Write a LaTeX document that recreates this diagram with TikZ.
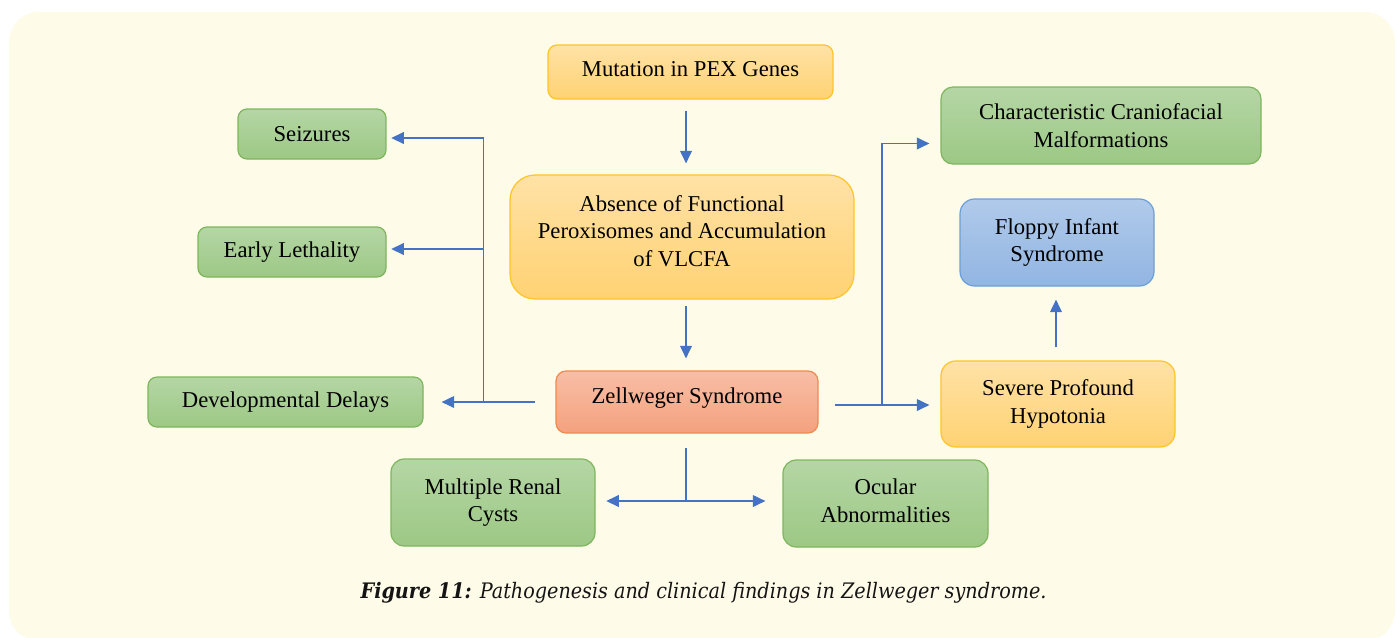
\documentclass[tikz,border=0pt]{standalone}
\usepackage{fontspec}
\setmainfont{Liberation Serif}
\newfontfamily\capfont{DejaVu Serif Condensed}
\usetikzlibrary{arrows.meta}

\definecolor{bgfill}{HTML}{FFFBE9}
\definecolor{arrowblue}{HTML}{4472C4}
\definecolor{greentop}{HTML}{B5D6A5}
\definecolor{greenbot}{HTML}{9CC884}
\definecolor{greenline}{HTML}{7DB65C}
\definecolor{orangetop}{HTML}{FFE2A6}
\definecolor{orangebot}{HTML}{FFD273}
\definecolor{orangeline}{HTML}{FFC425}
\definecolor{salmontop}{HTML}{F8BEA6}
\definecolor{salmonbot}{HTML}{F4A17E}
\definecolor{salmonline}{HTML}{EF8A4F}
\definecolor{bluetop}{HTML}{B0CAEA}
\definecolor{bluebot}{HTML}{92B5E2}
\definecolor{blueline}{HTML}{6A9FD8}

\tikzset{
  basebox/.style={line width=0.9pt, align=center, inner sep=0pt,
    font=\fontsize{17}{20.6}\selectfont, text=black},
  greenbox/.style={basebox, draw=greenline, top color=greentop, bottom color=greenbot},
  orangebox/.style={basebox, draw=orangeline, top color=orangetop, bottom color=orangebot},
  salmonbox/.style={basebox, draw=salmonline, top color=salmontop, bottom color=salmonbot},
  bluebox/.style={basebox, draw=blueline, top color=bluetop, bottom color=bluebot},
  link/.style={draw=arrowblue, line width=1pt},
  arr/.style={link, -{Triangle[length=9.4pt,width=8.8pt]}},
}

\begin{document}
\begin{tikzpicture}[x=0.75pt,y=-0.75pt]
\useasboundingbox (0,0) rectangle (1399,637);
\fill[white] (0,0) rectangle (1399,637);
\begin{scope}
  \clip (0,0) rectangle (1399,637);
  \fill[bgfill, rounded corners=22.5pt] (9,12) rectangle (1395,641);
\end{scope}

% central chain
\node[orangebox, rounded corners=6.75pt, minimum width=213.75pt, minimum height=40.5pt, text depth=4pt]
  (pex) at (690.5,72) {Mutation in PEX Genes};
\node[orangebox, rounded corners=18.75pt, minimum width=258pt, minimum height=93pt, text depth=9pt]
  (abs) at (682,237) {Absence of Functional\\Peroxisomes and Accumulation\\of VLCFA};
\node[salmonbox, rounded corners=7.5pt, minimum width=196.5pt, minimum height=46.5pt, text depth=9.7pt]
  (zs) at (687,402) {Zellweger Syndrome};

% left findings
\node[greenbox, rounded corners=6.75pt, minimum width=111pt, minimum height=37.5pt]
  (seiz) at (312,134) {Seizures};
\node[greenbox, rounded corners=6.75pt, minimum width=141pt, minimum height=37.5pt]
  (leth) at (292,252) {Early Lethality};
\node[greenbox, rounded corners=6.75pt, minimum width=206.25pt, minimum height=37.5pt]
  (dev) at (285.5,402) {Developmental Delays};

% bottom findings
\node[greenbox, rounded corners=10pt, minimum width=153pt, minimum height=65.25pt]
  (renal) at (493,502.5) {Multiple Renal\\Cysts};
\node[greenbox, rounded corners=10pt, minimum width=153.75pt, minimum height=65.25pt, text depth=4.5pt]
  (ocular) at (885.5,503.5) {Ocular\\Abnormalities};

% right findings
\node[greenbox, rounded corners=9pt, minimum width=240pt, minimum height=57.75pt]
  (cranio) at (1101,125.5) {Characteristic Craniofacial\\Malformations};
\node[bluebox, rounded corners=11pt, minimum width=145.5pt, minimum height=65.25pt]
  (floppy) at (1057,242.5) {Floppy Infant\\Syndrome};
\node[orangebox, rounded corners=11pt, minimum width=175.5pt, minimum height=64.5pt]
  (hypo) at (1058,404) {Severe Profound\\Hypotonia};

% junction points of the connectors
\coordinate (mid) at (686,0);
\coordinate (jl) at (483.5,402);
\coordinate (jr) at (882,405);
\coordinate (hf) at (1056,0);
\coordinate (jb) at (686,501);

% vertical chain
\draw[arr, shorten <=8.25pt, shorten >=8.25pt] (pex.south -| mid) -- (abs.north -| mid);
\draw[arr, shorten <=4.5pt, shorten >=9pt] (abs.south -| mid) -- (zs.north -| mid);

% left branch
\draw[arr, shorten <=15pt, shorten >=13.5pt] (zs.west) -- (dev.east);
\draw[arr, shorten >=3.5pt] (jl) |- ([yshift=-3pt]seiz.east);
\draw[arr, shorten >=3.5pt] ([yshift=2.25pt]leth.east -| jl) -- ([yshift=2.25pt]leth.east);

% right branch
\draw[arr, shorten <=12pt, shorten >=8.25pt] ([yshift=-2.25pt]zs.east) -- ([yshift=-2.25pt]zs.east -| hypo.west);
\draw[arr, shorten >=8.25pt] (jr) |- ([yshift=-13.5pt]cranio.west);
\draw[arr, shorten <=9.75pt, shorten >=9.75pt] (hypo.north -| hf) -- (floppy.south -| hf);

% bottom branch
\draw[link, shorten <=10.5pt] (zs.south -| mid) -- (jb);
\draw[arr, shorten >=8pt] (jb) -- (renal.east |- jb);
\draw[arr, shorten >=12.75pt] (jb) -- (ocular.west |- jb);

% caption
\node[text=black!92] (cap) at (703.5,593)
  {\capfont\fontsize{16}{19}\selectfont\itshape\bfseries Figure 11:\mdseries{} Pathogenesis and clinical findings in Zellweger syndrome.};
\end{tikzpicture}
\end{document}
